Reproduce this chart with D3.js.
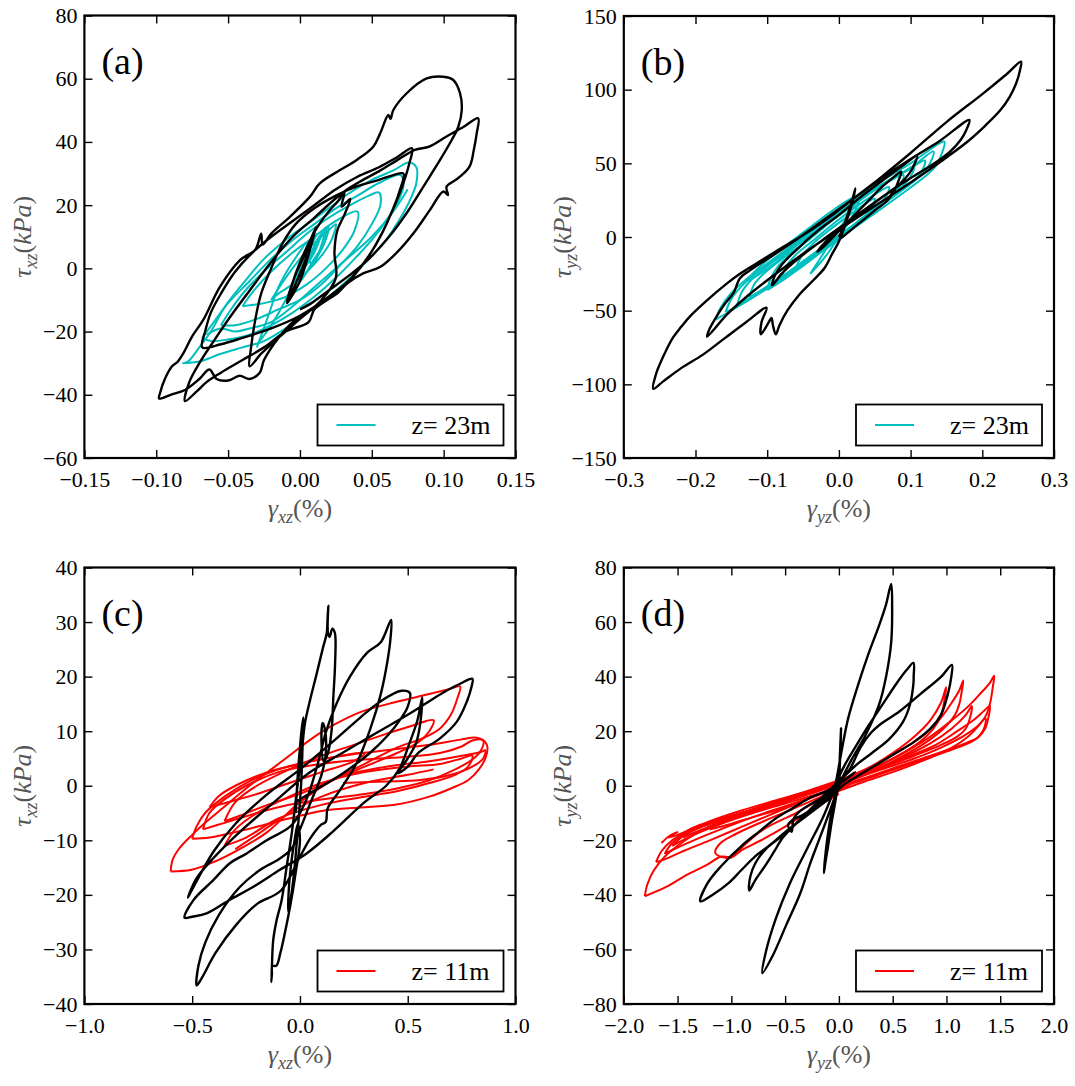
<!DOCTYPE html>
<html><head><meta charset="utf-8">
<script src="https://cdn.jsdelivr.net/npm/d3@7/dist/d3.min.js"></script>
<style>body{margin:0;background:#fff}svg{display:block}
svg text{font-family:"Liberation Serif","Times New Roman",serif !important;}</style>
</head><body>
<svg id="chart" width="1075" height="1086"></svg>
<script>
// ---------------- tick values ----------------
const aXTicks=[-0.15,-0.1,-0.05,0,0.05,0.1,0.15], aYTicks=[-60,-40,-20,0,20,40,60,80];
const bXTicks=[-0.3,-0.2,-0.1,0,0.1,0.2,0.3], bYTicks=[-150,-100,-50,0,50,100,150];
const cXTicks=[-1,-0.5,0,0.5,1], cYTicks=[-40,-30,-20,-10,0,10,20,30,40];
const dXTicks=[-2,-1.5,-1,-0.5,0,0.5,1,1.5,2], dYTicks=[-80,-60,-40,-20,0,20,40,60,80];
const panelLabels=["(a)","(b)","(c)","(d)"];
const legendLabels=["z= 23m","z= 23m","z= 11m","z= 11m"];

// ---------------- panel (a) : black path (strain %, stress kPa) ----------------
const aBlack=[[0.0,-3],[0.005,4],[0.009,10],[0.011,13],[0.007,6],[0.0,-4],[-0.006,-9],[-0.009,-11],[-0.004,-3],[0.004,5],[0.01,12],[0.004,3],[-0.004,-6],[-0.008,-10],
[-0.004,-3],[0.004,6],[0.012,13],[0.02,18],[0.026,21],[0.031,24],[0.029,19.5],[0.035,22],
[0.031,17],[0.026,12],[0.024,5],[0.025,-3],[0.015,-10],[0.0,-16],[-0.015,-22],[-0.027,-27],[-0.035,-31],
[-0.034,-25],[-0.031,-16],[-0.027,-8],[-0.02,0],[-0.012,8],[-0.003,14],[0.01,19],[0.025,23],[0.04,26],[0.055,28],[0.065,29.5],[0.072,30],
[0.069,24],[0.064,18],[0.057,11],[0.048,4],[0.036,-3],[0.02,-9],[0.0,-15],[-0.02,-19],[-0.04,-22],[-0.055,-24],[-0.068,-25],
[-0.066,-20],[-0.062,-14],[-0.055,-8],[-0.045,-1],[-0.033,5],[-0.02,10],[-0.005,15],[0.01,20],[0.025,25],[0.04,29],[0.055,32],[0.067,35],[0.078,38],
[0.076,33],[0.072,27],[0.066,20],[0.058,12],[0.048,4],[0.036,-3],[0.022,-9],[0.01,-13],[0.006,-17],[-0.01,-20],[-0.025,-25],[-0.04,-29],[-0.055,-33],[-0.065,-36],[-0.072,-39],[-0.08,-42],
[-0.077,-36],[-0.07,-30],[-0.06,-23],[-0.048,-15],[-0.035,-7],[-0.02,2],[-0.005,10],[0.01,16],[0.022,21],[0.033,25],[0.044,28],[0.056,31],[0.067,34],[0.08,37.5],[0.09,38.5],[0.102,41.7],[0.114,44.8],[0.124,47.5],
[0.123,42.7],[0.121,37.5],[0.118,32.2],[0.11,28.5],[0.102,25.8],[0.103,23.2],[0.0998,24.3],[0.0905,18.5],[0.079,11.1],[0.067,4.8],[0.056,0.5],[0.044,-1.6],[0.033,-4.7],[0.026,-7.9],[0.015,-11],[0.005,-14],[-0.005,-17],[-0.015,-22],[-0.025,-29],[-0.028,-33],[-0.035,-35],[-0.042,-34],[-0.05,-35.5],[-0.058,-35],[-0.063,-32],[-0.07,-35],[-0.08,-38.5],[-0.09,-40],[-0.098,-41.2],
[-0.0974,-39.5],[-0.094,-35],[-0.089,-31],[-0.085,-29.5],[-0.0812,-26.9],[-0.075,-21.5],[-0.0673,-16.3],[-0.0556,-5.8],[-0.0417,2.6],[-0.031,6],[-0.027,11],[-0.026,7.5],[-0.02,11],[-0.007,16.3],[0.007,22.7],[0.0138,26.9],[0.0279,31.1],[0.0395,34.3],[0.051,38.5],[0.0558,42.7],[0.0615,48.5],[0.063,47.3],[0.065,50.1],[0.0743,55.4],[0.0882,60.1],[0.0998,60.6],
[0.1067,59.6],[0.1114,55.4],[0.1126,50.1],[0.1102,44.8],[0.1056,40.6],[0.0975,34.3],[0.0858,25.8],[0.075,18],[0.062,10],[0.048,3],[0.035,-2],[0.02,-7],[0.008,-11],[0.0,-13]];

// panel (a) : z = 23 m loops
const aCyan=[
[[-0.0817,-30],[-0.078,-29.5],[-0.07,-25],[-0.062,-20],[-0.052,-12],[-0.04,-5],[-0.025,3],[-0.01,9],[0.005,14],[0.02,19],[0.035,24],[0.05,28],[0.065,31],[0.076,33.5],[0.081,32],[0.081,27],[0.077,22],[0.07,16],[0.06,9],[0.048,3],[0.035,-3],[0.02,-9],[0.005,-14],[-0.01,-19],[-0.025,-23],[-0.04,-25],[-0.055,-27],[-0.07,-29.5],[-0.0817,-30]],
[[-0.068,-22],[-0.06,-17],[-0.05,-11],[-0.035,-4],[-0.02,3],[-0.005,9],[0.01,14],[0.025,19],[0.04,23],[0.055,27],[0.07,29.5],[0.072,26],[0.068,21],[0.06,15],[0.05,9],[0.038,3],[0.025,-3],[0.01,-9],[-0.005,-14],[-0.02,-18],[-0.035,-21],[-0.05,-22.5],[-0.062,-23],[-0.068,-22]],
[[-0.055,-18],[-0.048,-13],[-0.038,-7],[-0.025,-1],[-0.01,5],[0.005,11],[0.02,16],[0.035,20],[0.048,23],[0.055,24],[0.056,20],[0.05,14],[0.04,7],[0.028,1],[0.015,-5],[0.0,-10],[-0.015,-13],[-0.03,-16],[-0.045,-18],[-0.055,-18]],
[[-0.04,-12],[-0.032,-7],[-0.02,-1],[-0.005,5],[0.01,10],[0.025,15],[0.04,18],[0.038,12],[0.03,6],[0.018,0],[0.005,-5],[-0.01,-9],[-0.025,-11],[-0.04,-12]],
[[-0.02,-10],[-0.01,-3],[0.0,3],[0.01,8],[0.02,12],[0.025,14],[0.022,9],[0.015,4],[0.005,-1],[-0.005,-5],[-0.015,-8],[-0.02,-10]],
[[-0.008,-8],[0.0,-1],[0.008,5],[0.016,11],[0.02,13],[0.017,8],[0.01,3],[0.002,-3],[-0.005,-7],[-0.008,-8]],
[[0.0,-3],[0.006,3],[0.012,8],[0.018,12],[0.016,7],[0.011,3],[0.005,-1],[0.0,-4],[0.005,2],[0.012,9],[0.015,11],[0.01,5],[0.003,0]],
[[-0.03,-25],[-0.022,-15],[-0.015,-6],[-0.005,2],[0.005,8],[0.0,0],[-0.01,-10],[-0.02,-18],[-0.028,-23]],
[[-0.065,-21],[-0.055,-19],[-0.045,-20],[-0.035,-19],[-0.02,-17],[-0.005,-12],[0.01,-6],[0.03,2],[0.05,10],[0.065,18],[0.075,25]],
[[0.005,2],[0.01,6],[0.014,10],[0.018,13],[0.014,6],[0.009,1],[0.006,4],[0.012,11]]];

// ---------------- panel (b) ----------------
const bBlack=[[0,0],[0.005,5],[0.012,15],[0.018,24],[0.023,33],
[0.018,22],[0.01,10],[0.0,-3],[-0.01,-12],[-0.02,-21],
[-0.035,-29],[-0.055,-39],[-0.072,-50],[-0.083,-60],[-0.088,-66],[-0.092,-60],[-0.094,-55],[-0.098,-58],[-0.104,-63],[-0.109,-66],[-0.108,-58],[-0.101,-48],
[-0.13,-58],[-0.16,-69],[-0.19,-80],[-0.22,-89],[-0.245,-98],[-0.259,-103],
[-0.255,-93],[-0.2495,-86],[-0.24,-76],[-0.231,-68],[-0.22,-61],[-0.208,-54],[-0.184,-43],[-0.156,-31.5],[-0.138,-25],[-0.115,-18],[-0.082,-8],[-0.054,0],[-0.02,11],[0.02,26],[0.06,41],[0.1,57],[0.15,78],[0.2,97],[0.235,111],[0.254,119],
[0.252,112],[0.247,104],[0.238,95],[0.225,86],[0.205,76],[0.18,65],[0.15,54],[0.1,37],[0.05,21],[0.0,5],[-0.04,-8],[-0.08,-22],[-0.12,-37],[-0.155,-52],[-0.184,-67.6],
[-0.18,-62],[-0.172,-55],[-0.16,-46],[-0.147,-38],[-0.138,-28],[-0.125,-23],[-0.1,-15],[-0.06,-2],[-0.02,12],[0.02,26],[0.06,40],[0.1,53],[0.14,65],[0.182,79.4],
[0.178,73],[0.17,66],[0.155,58],[0.13,49],[0.1,40],[0.06,27],[0.02,13],[-0.02,-1],[-0.06,-16],[-0.08,-25],[-0.093,-32.7],
[-0.09,-27],[-0.08,-19],[-0.06,-9],[-0.03,4],[0.0,15],[0.03,27],[0.06,38],[0.085,47],[0.109,55],
[0.105,49],[0.098,43],[0.085,36],[0.06,27],[0.03,16],[0.0,5],[-0.02,-4],[-0.03,-10],
[-0.02,-6],[0.0,4],[0.02,14],[0.04,24],[0.06,34],[0.075,40],[0.087,44.4],
[0.083,38],[0.078,32],[0.07,26],[0.074,30],[0.068,25],[0.05,18],[0.03,10],[0.01,2],[0.0,-2]];

const bCyan=[
[[-0.172,-56],[-0.165,-48],[-0.15,-38],[-0.13,-29],[-0.1,-18],[-0.05,0],[0.0,18],[0.05,35],[0.1,50],[0.147,64.7],[0.143,56],[0.135,48],[0.12,41],[0.09,30],[0.05,16],[0.0,-1],[-0.05,-18],[-0.1,-35],[-0.14,-47],[-0.172,-56]],
[[-0.158,-51],[-0.15,-42],[-0.135,-33],[-0.115,-24],[-0.08,-12],[-0.04,3],[0.0,17],[0.05,33],[0.1,47],[0.132,58],[0.127,50],[0.117,43],[0.097,35],[0.06,22],[0.02,8],[-0.02,-6],[-0.06,-21],[-0.1,-34],[-0.13,-44],[-0.158,-51]],
[[-0.142,-46],[-0.135,-37],[-0.12,-28],[-0.095,-18],[-0.06,-6],[-0.02,8],[0.02,22],[0.06,35],[0.095,45],[0.12,52],[0.116,45],[0.106,39],[0.086,31],[0.05,18],[0.01,4],[-0.03,-10],[-0.07,-24],[-0.105,-36],[-0.142,-46]],
[[-0.125,-41],[-0.118,-32],[-0.105,-25],[-0.08,-15],[-0.045,-3],[-0.01,11],[0.03,25],[0.065,37],[0.09,44],[0.105,48],[0.1,41],[0.09,35],[0.07,27],[0.04,15],[0.0,1],[-0.04,-13],[-0.08,-27],[-0.105,-35],[-0.125,-41]],
[[-0.1,-36],[-0.095,-28],[-0.085,-20],[-0.065,-11],[-0.035,1],[0.0,15],[0.03,26],[0.06,35],[0.09,42],[0.085,35],[0.075,29],[0.05,19],[0.02,7],[-0.02,-8],[-0.055,-21],[-0.08,-30],[-0.1,-36]],
[[-0.08,-29],[-0.075,-21],[-0.06,-12],[-0.035,-2],[-0.005,10],[0.025,21],[0.05,29],[0.07,34],[0.065,27],[0.05,20],[0.025,10],[-0.005,-2],[-0.035,-14],[-0.06,-23],[-0.08,-29]],
[[-0.06,-21],[-0.052,-13],[-0.035,-4],[-0.01,6],[0.015,15],[0.035,22],[0.05,26],[0.045,19],[0.03,11],[0.01,2],[-0.015,-7],[-0.04,-15],[-0.06,-21]],
[[-0.13,-30],[-0.11,-20],[-0.08,-8],[-0.05,3],[-0.02,14],[0.0,21],[0.02,27],[0.0,17],[-0.03,5],[-0.06,-6],[-0.09,-18],[-0.12,-28],[-0.13,-30]],
[[-0.04,-25],[-0.02,-10],[0.0,5],[0.02,20],[0.03,28],[0.02,15],[0.0,0],[-0.02,-14],[-0.04,-25]]];

// ---------------- panel (c) ----------------
const cBlack=[[-0.02,-5],[-0.01,2],[0.0,7],[0.01,11],[0.016,12.5],[0.012,7],[0.005,0],[-0.01,-8],[-0.025,-15],[-0.04,-20],[-0.055,-23],[-0.05,-18],[-0.04,-14],[-0.025,-10],[-0.01,-7],[0.0,-10],[-0.02,-16],[-0.045,-22],[-0.07,-27],[-0.09,-30.5],[-0.11,-33],[-0.128,-33],[-0.13,-34.5],[-0.133,-36],
[-0.13,-33],[-0.124,-28.3],[-0.108,-24.6],[-0.085,-21],[-0.0615,-14.8],[-0.038,-8.7],[-0.023,-3.8],[-0.008,1],[0.008,5.9],[0.023,11.4],[0.047,15.7],[0.078,20.6],[0.108,25.5],[0.124,27.9],[0.128,30.5],[0.1316,33],
[0.13,28],[0.138,27.3],[0.15,28.8],[0.162,28],[0.163,22.4],[0.155,16.3],[0.147,10.2],[0.13,6],[0.11,4.5],[0.1,8],[0.105,11.5],[0.115,10.5],[0.12,6],[0.1,2],[0.05,-3],[0.0,-8],[-0.04,-11.6],[-0.1,-13.5],[-0.184,-15.4],[-0.28,-18.6],[-0.375,-23.6],[-0.439,-28.7],[-0.471,-33],[-0.479,-36.6],
[-0.455,-35.2],[-0.391,-30.6],[-0.296,-25.5],[-0.2,-21.7],[-0.088,-19.2],[0.0,-13],[0.05,-9.5],[0.096,-7.2],[0.12,-6.6],[0.128,-4.2],[0.184,-0.9],[0.264,4.2],[0.327,10.5],[0.375,16.8],[0.407,23.1],[0.42,27],[0.423,30.4],
[0.375,26.3],[0.312,24.4],[0.232,20],[0.168,14.9],[0.12,9.8],[0.088,4.8],[0.04,-1.5],[0.0,-5],[-0.046,-7.5],[-0.154,-10],[-0.247,-12.4],[-0.325,-14.2],[-0.402,-17.3],[-0.495,-21],[-0.535,-24.2],
[-0.5,-24],[-0.433,-23.4],[-0.325,-20.9],[-0.216,-18.5],[-0.093,-15.4],[0.031,-12.4],[0.15,-8.5],[0.3,-3],[0.4,0],[0.46,3],[0.51,8],[0.545,12],[0.567,16.2],
[0.56,12],[0.54,8],[0.5,5],[0.455,2.3],
[0.5,3.5],[0.551,6.1],[0.647,8.6],[0.727,11.7],[0.775,15.5],[0.795,18],[0.8,19.6],
[0.743,18.7],[0.679,17.4],[0.6,15.5],[0.5,13],[0.36,9.8],[0.2,6.1],[0.04,2.3],[-0.12,-3],[-0.28,-8.5],[-0.407,-13.5],[-0.48,-17],[-0.52,-20.5],
[-0.5,-19],[-0.4,-12],[-0.3,-7],[-0.15,-1.5],[0.0,3],[0.15,8],[0.28,12.5],[0.375,15.5],[0.471,17.4],[0.51,17],[0.5,14.5],[0.47,12.4],[0.407,9.2],[0.327,6.1],[0.2,2.3],[0.04,-1.5],[-0.02,-3]];

const cRed=[
[[-0.6,-15.7],[-0.59,-13.5],[-0.56,-11.5],[-0.5,-9],[-0.44,-6.8],[-0.34,-3.5],[-0.25,-0.5],[-0.15,2.5],[-0.05,5.5],[0.05,8.5],[0.15,11],[0.28,13.5],[0.44,15.3],[0.6,16.8],[0.7,17.8],[0.743,18.2],[0.73,16],[0.7,13],[0.65,10.5],[0.57,8.7],[0.45,7],[0.3,4],[0.15,1],[0.0,-3],[-0.152,-8.5],[-0.28,-11.6],[-0.407,-14.1],[-0.503,-15.4],[-0.6,-15.7]],
[[-0.5,-9.7],[-0.48,-7.5],[-0.44,-5],[-0.35,-2],[-0.25,0.5],[-0.1,3],[0.05,4.5],[0.2,5.5],[0.4,6.5],[0.6,7.5],[0.75,8.5],[0.82,8.8],[0.86,8],[0.87,7],[0.86,5],[0.83,3],[0.78,1],[0.7,-0.5],[0.6,-2],[0.44,-3.5],[0.28,-4],[0.12,-4.5],[0.0,-5.5],[-0.15,-7],[-0.3,-8.5],[-0.42,-9.5],[-0.5,-9.7]],
[[-0.45,-8],[-0.42,-5],[-0.35,-2.5],[-0.25,0],[-0.1,2.5],[0.1,4],[0.3,4.8],[0.5,5.3],[0.65,6],[0.75,7.2],[0.8,8.3],[0.85,8.3],[0.84,6.5],[0.8,4.8],[0.72,3],[0.6,1],[0.45,-0.5],[0.3,-1.5],[0.1,-2.5],[-0.05,-3.5],[-0.2,-5],[-0.35,-6.8],[-0.45,-8]],
[[-0.35,-11],[-0.3,-8],[-0.2,-5],[-0.05,-2],[0.1,0.5],[0.3,2.5],[0.5,3.5],[0.65,4],[0.75,5],[0.8,5.5],[0.78,3.5],[0.72,2],[0.6,0.5],[0.45,-1],[0.3,-2],[0.1,-3.5],[-0.1,-6],[-0.25,-9.5],[-0.35,-11]],
[[-0.35,-6.5],[-0.3,-3],[-0.2,0],[-0.05,3],[0.1,5.5],[0.25,7.5],[0.4,9.5],[0.52,11],[0.62,12],[0.6,10],[0.55,8],[0.45,6],[0.3,3.5],[0.15,1],[0.0,-1.5],[-0.15,-3.5],[-0.28,-5.5],[-0.35,-6.5]],
[[-0.42,-4],[-0.38,-2],[-0.3,0],[-0.15,2.5],[0.0,4],[0.15,5.2],[0.3,6],[0.25,4.5],[0.1,2.5],[-0.05,0.5],[-0.2,-1.5],[-0.35,-3.2],[-0.42,-4]],
[[0.2,2],[0.4,3.5],[0.6,4.5],[0.75,5.5],[0.84,6.2],[0.86,6.5],[0.85,5],[0.8,3.5],[0.7,2],[0.55,1],[0.4,0.8],[0.2,0.5]],
[[-0.3,-11.6],[-0.2,-9],[-0.05,-5],[0.1,-2],[0.3,0.5],[0.5,2],[0.62,3]]];

// ---------------- panel (d) ----------------
const dBlack=[[0,0],[0.008,7],[0.015,14],[0.02,21],
[0.01,12],[0.0,4],[-0.03,-5],[-0.07,-14],[-0.1,-22],[-0.125,-28],[-0.14,-32],
[-0.13,-27],[-0.11,-20],[-0.08,-12],[-0.04,-4],[0.0,3],[0.06,8],[0.15,14],[0.278,22.2],[0.406,29.8],[0.534,37.4],[0.629,42.4],[0.693,45],
[0.695,40],[0.693,37.4],[0.661,29.8],[0.597,23.5],[0.47,17.2],[0.31,12.1],[0.182,8.3],[0.05,3.5],[-0.1,-2],[-0.25,-8],[-0.4,-14],[-0.521,-19],[-0.6,-24],[-0.68,-29],[-0.776,-34.5],[-0.834,-38.4],
[-0.824,-33.3],[-0.776,-28.3],[-0.68,-23.2],[-0.521,-18.2],[-0.35,-12],[-0.2,-6.5],[-0.05,-1],[0.1,6],[0.2,14],[0.3,19.5],[0.374,22.2],[0.565,27.3],[0.757,33.6],[0.949,39.9],[1.051,44.3],
[1.045,39.9],[1.013,33.6],[0.949,26],[0.853,21],[0.693,15.9],[0.534,12.1],[0.374,8.3],[0.214,4.5],[0.05,0.5],[-0.1,-5],[-0.3,-11],[-0.5,-17],[-0.649,-22],[-0.776,-25.8],[-0.904,-30.8],[-1.032,-35.9],[-1.16,-39.6],[-1.288,-42.4],
[-1.224,-35.9],[-1.096,-29.5],[-0.904,-22],[-0.744,-16.9],[-0.585,-11.9],[-0.425,-8.1],[-0.265,-4.3],[-0.105,-1.8],[0.054,2],[0.15,5],
[0.05,2],[-0.1,-3],[-0.265,-6.8],[-0.361,-9.3],[-0.42,-12],[-0.44,-16.9],[-0.473,-14.4],[-0.43,-12.5],[-0.35,-11],[-0.2,-7],[-0.05,-2],[0.02,3],[-0.02,-2],
[-0.073,-8],[-0.169,-18.2],[-0.265,-28.3],[-0.361,-39.6],[-0.489,-51],[-0.617,-62.4],[-0.712,-68.7],
[-0.68,-61],[-0.585,-48.5],[-0.457,-35.9],[-0.297,-23.2],[-0.137,-10.6],[-0.04,-0.5],[0.022,12.1],[0.086,24.7],[0.182,37.4],[0.278,48.7],[0.374,58.8],[0.438,66.4],[0.486,74],
[0.495,65],[0.486,52.5],[0.438,39.9],[0.374,29.8],[0.246,18.4],[0.118,9.6],[0.022,2],[-0.02,-3]];

const dRed=[
[[-1.805,-40.5],[-1.78,-36],[-1.72,-31],[-1.62,-26],[-1.5,-22],[-1.35,-18],[-1.15,-14],[-0.9,-10],[-0.6,-6],[-0.3,-2.5],[0.0,1],[0.3,6],[0.6,12],[0.85,18],[1.05,24],[1.2,29],[1.32,34],[1.4,37.5],[1.444,40.3],[1.43,36],[1.41,31],[1.37,26],[1.3,22],[1.2,18],[1.05,14],[0.8,9.5],[0.5,5],[0.2,1],[-0.1,-3.5],[-0.4,-10],[-0.7,-16],[-0.9,-22.5],[-1.0,-26],[-1.1,-26],[-1.224,-28.9],[-1.415,-32.7],[-1.607,-37.1],[-1.805,-40.5]],
[[-1.7,-28],[-1.65,-24],[-1.55,-20],[-1.4,-16.5],[-1.2,-13],[-0.9,-9],[-0.6,-5.5],[-0.3,-2],[0.0,2],[0.3,7],[0.55,12.5],[0.8,19],[0.95,25],[1.05,30.5],[1.12,35],[1.157,38.6],[1.14,34],[1.12,30],[1.08,26],[1.0,22],[0.85,17],[0.6,11],[0.3,5],[0.0,0],[-0.3,-5],[-0.6,-10],[-0.9,-15],[-1.2,-20],[-1.45,-24],[-1.62,-27],[-1.7,-28]],
[[-1.62,-25],[-1.55,-21],[-1.4,-17],[-1.2,-14],[-0.9,-10],[-0.6,-6.5],[-0.3,-3],[0.0,1],[0.3,5],[0.6,10],[0.9,15],[1.1,20],[1.25,24],[1.35,27.5],[1.403,29.2],[1.39,25],[1.36,21],[1.3,18],[1.2,15.5],[1.0,12.5],[0.7,8.5],[0.4,4.5],[0.1,0.5],[-0.2,-3.5],[-0.5,-7.5],[-0.8,-11.5],[-1.1,-16],[-1.35,-20],[-1.52,-23],[-1.62,-25]],
[[-1.55,-22],[-1.45,-18.5],[-1.3,-15.5],[-1.1,-12.5],[-0.8,-9],[-0.5,-5.5],[-0.2,-2],[0.1,2],[0.4,6],[0.7,10],[0.95,14],[1.15,18],[1.28,21.5],[1.364,24.7],[1.35,21],[1.3,18],[1.2,16],[1.0,13],[0.7,9],[0.4,5],[0.1,1],[-0.2,-3],[-0.5,-6.5],[-0.8,-10],[-1.1,-14],[-1.35,-18],[-1.55,-22]],
[[-1.45,-19],[-1.35,-16],[-1.15,-13],[-0.9,-10],[-0.6,-6.5],[-0.3,-3],[0.0,1],[0.3,5.5],[0.6,10.5],[0.85,15.5],[1.05,21],[1.18,26],[1.236,29.2],[1.22,25],[1.18,21],[1.1,18],[0.95,15],[0.7,11],[0.4,6.5],[0.1,2],[-0.2,-2],[-0.5,-6],[-0.8,-9.5],[-1.1,-13.5],[-1.3,-16.5],[-1.45,-19]],
[[-1.2,-16],[-1.1,-13],[-0.9,-10],[-0.6,-6],[-0.3,-2.5],[0.0,1.5],[0.25,6],[0.5,12],[0.7,18],[0.85,24],[0.95,30.5],[0.997,36.1],[0.98,31],[0.95,26],[0.88,21],[0.75,16],[0.55,11],[0.3,6],[0.05,1],[-0.2,-3.5],[-0.5,-8],[-0.8,-11.5],[-1.05,-14.5],[-1.2,-16]],
[[0.0,-3],[-0.3,-10],[-0.5,-15],[-0.7,-19.5],[-0.9,-23.5],[-1.0,-26.3],[-1.1,-26],[-1.15,-24.5],[-1.1,-21],[-0.95,-17.5],[-0.7,-13],[-0.4,-8],[-0.1,-3],[0.1,0]],
[[-1.65,-21],[-1.58,-18.5],[-1.5,-17],[-1.6,-19],[-1.5,-18],[-1.3,-14.5],[-1.0,-11],[-0.7,-7.5]]];

// ---------------- drawing ----------------
const svg=d3.select("#chart");
const SERIF="Liberation Serif";
const MINUS="\u2212";
function fmt(dec){return d=>{const s=Math.abs(d).toFixed(dec);return (d<0?MINUS:"")+s;};}

const panels=[
 {box:[84.4,515.5,15.5,458],xd:[-0.15,0.15],yd:[-60,80],xt:aXTicks,yt:aYTicks,xdec:2,black:aBlack,loops:aCyan,col:"#00bfbf",sub:"xz"},
 {box:[623.8,1054,16,458],xd:[-0.3,0.3],yd:[-150,150],xt:bXTicks,yt:bYTicks,xdec:1,black:bBlack,loops:bCyan,col:"#00bfbf",sub:"yz"},
 {box:[84.4,515.5,567.5,1004],xd:[-1,1],yd:[-40,40],xt:cXTicks,yt:cYTicks,xdec:1,black:cBlack,loops:cRed,col:"#ff0000",sub:"xz"},
 {box:[623.8,1054,567.5,1004],xd:[-2,2],yd:[-80,80],xt:dXTicks,yt:dYTicks,xdec:1,black:dBlack,loops:dRed,col:"#ff0000",sub:"yz"}
];

panels.forEach((p,i)=>{
  const [x0,x1,y0,y1]=p.box;
  const x=d3.scaleLinear().domain(p.xd).range([x0,x1]);
  const y=d3.scaleLinear().domain(p.yd).range([y1,y0]);
  const g=svg.append("g");
  const cid="clip"+i;
  svg.append("clipPath").attr("id",cid).append("rect").attr("x",x0).attr("y",y0).attr("width",x1-x0).attr("height",y1-y0);
  const line=d3.line().x(d=>x(d[0])).y(d=>y(d[1])).curve(d3.curveCatmullRom.alpha(0.5));
  const plot=g.append("g").attr("clip-path",`url(#${cid})`);
  p.loops.forEach(L=>plot.append("path").attr("d",line(L)).attr("fill","none").attr("stroke",p.col).attr("stroke-width",2).attr("stroke-linejoin","round"));
  plot.append("path").attr("d",line(p.black)).attr("fill","none").attr("stroke","#000").attr("stroke-width",2.4).attr("stroke-linejoin","round");

  const fx=fmt(p.xdec), fy=fmt(0);
  const ax=g.append("g").attr("transform",`translate(0,${y1})`).call(d3.axisBottom(x).tickValues(p.xt).tickSize(-8).tickPadding(13).tickFormat(fx));
  const at=g.append("g").attr("transform",`translate(0,${y0})`).call(d3.axisTop(x).tickValues(p.xt).tickSize(-8).tickFormat(""));
  const al=g.append("g").attr("transform",`translate(${x0},0)`).call(d3.axisLeft(y).tickValues(p.yt).tickSize(-8).tickPadding(7).tickFormat(fy));
  const ar=g.append("g").attr("transform",`translate(${x1},0)`).call(d3.axisRight(y).tickValues(p.yt).tickSize(-8).tickFormat(""));
  [ax,at,al,ar].forEach(a=>{a.attr("font-family",SERIF).attr("font-size",22);
    a.select(".domain").remove();a.selectAll("line").attr("stroke","#000").attr("stroke-width",1.4);
    a.selectAll("text").attr("fill","#000");});
  g.append("rect").attr("x",x0).attr("y",y0).attr("width",x1-x0).attr("height",y1-y0).attr("fill","none").attr("stroke","#000").attr("stroke-width",2.2);

  g.append("text").attr("x",x0+17).attr("y",y0+58.5).attr("font-size",38).text(panelLabels[i]);

  const lx=x1-12-186, ly=y1-12.5-41;
  g.append("rect").attr("x",lx).attr("y",ly).attr("width",186).attr("height",41).attr("fill","#fff").attr("stroke","#000").attr("stroke-width",1.8);
  g.append("line").attr("x1",lx+19).attr("x2",lx+58).attr("y1",ly+20.5).attr("y2",ly+20.5).attr("stroke",p.col).attr("stroke-width",2.2);
  g.append("text").attr("x",lx+94).attr("y",ly+29).attr("font-size",26).text(legendLabels[i]);

  const tcol="#555";
  const xt=g.append("text").attr("x",(x0+x1)/2).attr("y",y1+59).attr("text-anchor","middle").attr("font-size",26).attr("fill",tcol);
  xt.append("tspan").attr("font-style","italic").text("\u03b3");
  xt.append("tspan").attr("font-style","italic").attr("font-size",18).attr("dy",6).text(p.sub);
  xt.append("tspan").attr("dy",-6).text("(%)");
  const yt=g.append("text").attr("transform",`translate(${x0-53},${(y0+y1)/2}) rotate(-90)`).attr("text-anchor","middle").attr("font-size",26).attr("fill",tcol);
  yt.append("tspan").attr("font-style","italic").text("\u03c4");
  yt.append("tspan").attr("font-style","italic").attr("font-size",18).attr("dy",6).text(p.sub);
  yt.append("tspan").attr("dy",-6).text("(");
  yt.append("tspan").attr("font-style","italic").text("kPa");
  yt.append("tspan").text(")");
});
</script>
</body></html>
